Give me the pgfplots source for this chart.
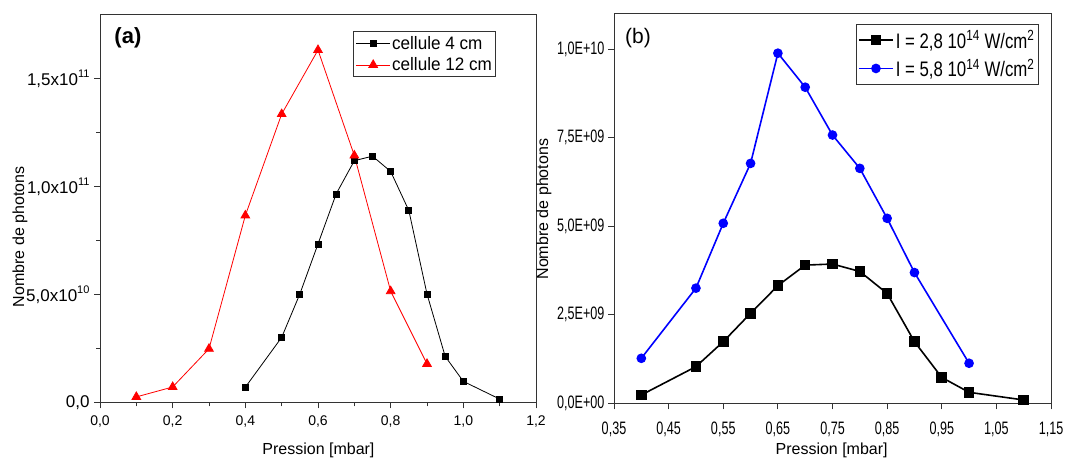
\documentclass[border=0pt]{standalone}
\usepackage{fontspec}
\setmainfont{Liberation Sans}
\newfontfamily\narrowfont[FakeStretch=0.95]{Liberation Sans}
\newfontfamily\legbfont[FakeStretch=0.8]{Liberation Sans}
\newfontfamily\vnarrowfont[FakeStretch=0.7]{Liberation Sans}
\usepackage{pgfplots}
\pgfplotsset{compat=1.18}
\newcommand{\expo}[1]{\raisebox{0.45em}{\fontsize{11}{12}\selectfont #1}}
\begin{document}
\begin{tikzpicture}
\useasboundingbox (0pt,0pt) rectangle (1067pt,459pt);
% ---------------- panel (a)
\begin{axis}[
  at={(100pt,56.7pt)}, anchor=south west, scale only axis,
  width=436pt, height=388.3pt,
  xmin=0, xmax=1.2, ymin=0, ymax=1.8e11,
  axis line style={black!80, line width=1pt},
  tick style={black!80, line width=0.8pt},
  tick align=outside, tick pos=left,
  major tick length=6pt, minor tick length=4pt,
  xtick={0,0.2,0.4,0.6,0.8,1.0,1.2},
  xticklabels={{0,0},{0,2},{0,4},{0,6},{0,8},{1,0},{1,2}},
  minor x tick num=1,
  ytick={0,5e10,1e11,1.5e11},
  yticklabels={{0,0},{5,0x10\expo{10}},{1,0x10\expo{11}},{1,5x10\expo{11}}},
  minor y tick num=1,
  scaled y ticks=false,
  yticklabel style={font=\fontsize{17}{19}\selectfont, xshift=-1pt},
  xticklabel style={font=\fontsize{14}{16}\selectfont, yshift=-4pt},
  xlabel={Pression [mbar]},
  ylabel={Nombre de photons},
  x label style={at={(axis description cs:0.501,-0.123)}, anchor=center, font=\fontsize{16}{18}\selectfont},
  y label style={at={(axis description cs:-0.1835,0.426)}, anchor=center, font=\fontsize{16}{18}\selectfont},
  legend style={at={(0.908,0.956)}, anchor=north east, draw=black!80, line width=1pt,
    font=\narrowfont\fontsize{18}{20}\selectfont, inner xsep=2pt, inner ysep=3pt, row sep=4pt,
    nodes={inner sep=1.5pt}},
  legend cell align=left,
  legend image code/.code={\draw[mark repeat=2,mark phase=2] plot coordinates {(0pt,0pt) (17pt,0pt) (34pt,0pt)};},
]
\addplot[black, line width=0.8pt, mark=square*, mark size=3pt, mark options={solid}] coordinates {
(0.4,0.070e11) (0.5,0.301e11) (0.55,0.502e11) (0.6,0.734e11) (0.65,0.966e11)
(0.7,1.12e11) (0.75,1.141e11) (0.8,1.07e11) (0.85,0.889e11) (0.9,0.502e11)
(0.95,0.213e11) (1.0,0.097e11) (1.1,0.015e11)};
\addlegendentry{cellule 4 cm}
\addplot[red, line width=0.8pt, mark=triangle*, mark size=5pt, mark options={solid}] coordinates {
(0.1,0.025e11) (0.2,0.071e11) (0.3,0.248e11) (0.4,0.866e11) (0.5,1.336e11)
(0.6,1.633e11) (0.7,1.144e11) (0.8,0.515e11) (0.9,0.178e11)};
\addlegendentry{cellule 12 cm}
\node[font=\bfseries\fontsize{22}{24}\selectfont] at (axis description cs:0.064,0.938) {(a)};
\end{axis}
% ---------------- panel (b)
\begin{axis}[
  at={(614pt,55.7pt)}, anchor=south west, scale only axis,
  width=437pt, height=389.8pt,
  xmin=0.35, xmax=1.15, ymin=0, ymax=1.1e10,
  axis line style={black!80, line width=1pt},
  tick style={black!80, line width=0.8pt},
  tick align=outside, tick pos=left,
  major tick length=6pt,
  xtick={0.35,0.45,0.55,0.65,0.75,0.85,0.95,1.05,1.15},
  xticklabels={{0,35},{0,45},{0,55},{0,65},{0,75},{0,85},{0,95},{1,05},{1,15}},
  ytick={0,2.5e9,5e9,7.5e9,1e10},
  yticklabels={{0,0E+00},{2,5E+09},{5,0E+09},{7,5E+09},{1,0E+10}},
  scaled y ticks=false,
  yticklabel style={font=\vnarrowfont\fontsize{18}{20}\selectfont},
  xticklabel style={font=\vnarrowfont\fontsize{18}{20}\selectfont, yshift=-9pt},
  xlabel={Pression [mbar]},
  ylabel={Nombre de photons},
  x label style={at={(axis description cs:0.498,-0.12)}, anchor=center, font=\fontsize{16}{18}\selectfont},
  y label style={at={(axis description cs:-0.160,0.498)}, anchor=center, font=\fontsize{16}{18}\selectfont},
  legend style={at={(0.9725,0.973)}, anchor=north east, draw=black!80, line width=1pt,
    font=\legbfont\fontsize{21}{24}\selectfont, inner xsep=2pt, inner ysep=4pt, row sep=5pt,
    nodes={inner sep=2pt}},
  legend cell align=left,
  legend image code/.code={\draw[mark repeat=2,mark phase=2] plot coordinates {(0pt,0pt) (17pt,0pt) (34pt,0pt)};},
]
\addplot[black, line width=1.6pt, mark=square*, mark size=4.5pt, mark options={solid}] coordinates {
(0.4,0.0235e10) (0.5,0.1035e10) (0.55,0.174e10) (0.6,0.254e10) (0.65,0.332e10)
(0.7,0.390e10) (0.75,0.393e10) (0.8,0.372e10) (0.85,0.310e10) (0.9,0.174e10)
(0.95,0.073e10) (1.0,0.031e10) (1.1,0.0094e10)};
\addlegendentry{I = 2,8 10\textsuperscript{14} W/cm\textsuperscript{2}}
\addplot[blue, line width=1.6pt, mark=*, mark size=4pt, mark options={solid}] coordinates {
(0.4,0.127e10) (0.5,0.325e10) (0.55,0.508e10) (0.6,0.677e10) (0.65,0.988e10)
(0.7,0.892e10) (0.75,0.757e10) (0.8,0.663e10) (0.85,0.522e10) (0.9,0.369e10)
(1.0,0.113e10)};
\addlegendentry{I = 5,8 10\textsuperscript{14} W/cm\textsuperscript{2}}
\node[font=\fontsize{21}{23}\selectfont] at (axis description cs:0.055,0.937) {(b)};
\end{axis}
\end{tikzpicture}
\end{document}
